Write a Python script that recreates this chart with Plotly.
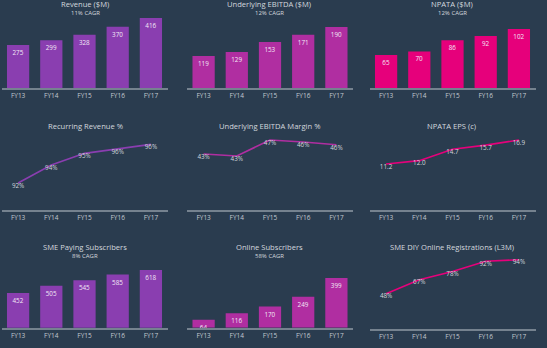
import plotly.graph_objects as go

W, H = 547, 348

# ---- data ----
categories = ["FY13", "FY14", "FY15", "FY16", "FY17"]

revenue = [275, 299, 328, 370, 416]
underlying_ebitda = [119, 129, 153, 171, 190]
npata = [65, 70, 86, 92, 102]

recurring_revenue_pct = [92.0, 94.0, 95.3, 95.8, 96.3]
ebitda_margin_pct = [43.3, 42.8, 46.8, 46.3, 45.6]
npata_eps = [11.2, 12.0, 14.7, 15.7, 16.9]

sme_paying_subscribers = [452, 505, 545, 585, 618]
online_subscribers = [64, 116, 170, 249, 399]
sme_diy_online_reg_pct = [48, 67, 78, 92, 94]

titles = [
    "Revenue ($M)", "Underlying EBITDA ($M)", "NPATA ($M)",
    "Recurring Revenue %", "Underlying EBITDA Margin %", "NPATA EPS (c)",
    "SME Paying Subscribers", "Online Subscribers", "SME DIY Online Registrations (L3M)",
]
subtitles = ["11% CAGR", "12% CAGR", "12% CAGR", "", "", "", "8% CAGR", "58% CAGR", ""]

# ---- styling ----
BG = "#2a3c4f"
PURPLE = "#8a3eb0"
MAGENTA = "#b02ea1"
PINK = "#e6007b"
AXIS = "#75828f"
TICK = "#c3c9d1"
TITLE = "#d3d8de"
BAR_LABEL = "#f2e9f6"
LINE_LABEL = "#d3d8de"
FONT = "Open Sans"

# column x-extents and row y-extents (pixels from left / from bottom)
COLS = [(1.5, 167.5), (187.0, 353.0), (369.5, 535.5)]

panels = [
    dict(kind="bar", values=revenue, color=PURPLE, fmt="%{y}", col=0, y=(260, 330), rng=(49.5, 416)),
    dict(kind="bar", values=underlying_ebitda, color=MAGENTA, fmt="%{y}", col=1, y=(260, 330), rng=(40.5, 212)),
    dict(kind="bar", values=npata, color=PINK, fmt="%{y}", col=2, y=(260, 330), rng=(17.7, 117.7)),
    dict(kind="line", values=recurring_revenue_pct, color=PURPLE, fmt="%{y:.0f}%", col=0, y=(138, 218), rng=(89.0, 97.9)),
    dict(kind="line", values=ebitda_margin_pct, color=MAGENTA, fmt="%{y:.0f}%", col=1, y=(138, 218), rng=(29.3, 49.3)),
    dict(kind="line", values=npata_eps, color=PINK, fmt="%{y:.1f}", col=2, y=(138, 218), rng=(0.25, 19.3)),
    dict(kind="bar", values=sme_paying_subscribers, color=PURPLE, fmt="%{y}", col=0, y=(20.3, 90), rng=(202, 704.6)),
    dict(kind="bar", values=online_subscribers, color=MAGENTA, fmt="%{y}", col=1, y=(20.3, 90), rng=(0, 560)),
    dict(kind="line", values=sme_diy_online_reg_pct, color=PINK, fmt="%{y:.0f}%", col=2, y=(18.7, 98), rng=(0, 107.1)),
]

# title centres (x from left, y from top) per panel
title_pos = [
    (85, 4), (269, 4), (452, 4),
    (85, 126), (269, 126), (451, 126),
    (85, 247), (269, 247), (452, 247),
]
sub_dy = 9

fig = go.Figure()
layout = {}

for i, p in enumerate(panels, start=1):
    xa = "x" if i == 1 else f"x{i}"
    ya = "y" if i == 1 else f"y{i}"
    if p["kind"] == "bar":
        fig.add_trace(go.Bar(
            x=categories, y=p["values"],
            marker=dict(color=p["color"], line=dict(width=0)),
            texttemplate=p["fmt"], textposition="inside", insidetextanchor="end",
            textangle=0, constraintext="none",
            textfont=dict(family=FONT, size=6.3, color=BAR_LABEL),
            xaxis=xa, yaxis=ya, hoverinfo="skip", cliponaxis=False,
        ))
    else:
        fig.add_trace(go.Scatter(
            x=categories, y=p["values"], mode="lines+text",
            line=dict(color=p["color"], width=1.6),
            texttemplate=p["fmt"], textposition="bottom center",
            textfont=dict(family=FONT, size=6.3, color=LINE_LABEL),
            xaxis=xa, yaxis=ya, hoverinfo="skip", cliponaxis=False,
        ))
    x0, x1 = COLS[p["col"]]
    y0, y1 = p["y"]
    layout["xaxis" if i == 1 else f"xaxis{i}"] = dict(
        domain=[x0 / W, x1 / W], anchor=ya, range=[-0.5, 4.5],
        showline=True, linecolor=AXIS, linewidth=2, showgrid=False, zeroline=False,
        ticks="", tickfont=dict(family=FONT, size=6.5, color=TICK), fixedrange=True,
    )
    layout["yaxis" if i == 1 else f"yaxis{i}"] = dict(
        domain=[y0 / H, y1 / H], anchor=xa, range=list(p["rng"]),
        visible=False, fixedrange=True,
    )

annotations = []
for (tx, ty), t, s in zip(title_pos, titles, subtitles):
    annotations.append(dict(
        text=t, x=tx / W, y=1 - ty / H, xref="paper", yref="paper",
        xanchor="center", yanchor="middle", showarrow=False,
        font=dict(family=FONT, size=7.6, color=TITLE),
    ))
    if s:
        annotations.append(dict(
            text=s, x=tx / W, y=1 - (ty + sub_dy) / H, xref="paper", yref="paper",
            xanchor="center", yanchor="middle", showarrow=False,
            font=dict(family=FONT, size=6, color=TITLE),
        ))

fig.update_layout(
    width=W, height=H, margin=dict(l=0, r=0, t=0, b=0),
    paper_bgcolor=BG, plot_bgcolor=BG, showlegend=False,
    bargap=0.33, annotations=annotations, font=dict(family=FONT),
    **layout,
)

fig.write_html("out.html", config={"displayModeBar": False})
